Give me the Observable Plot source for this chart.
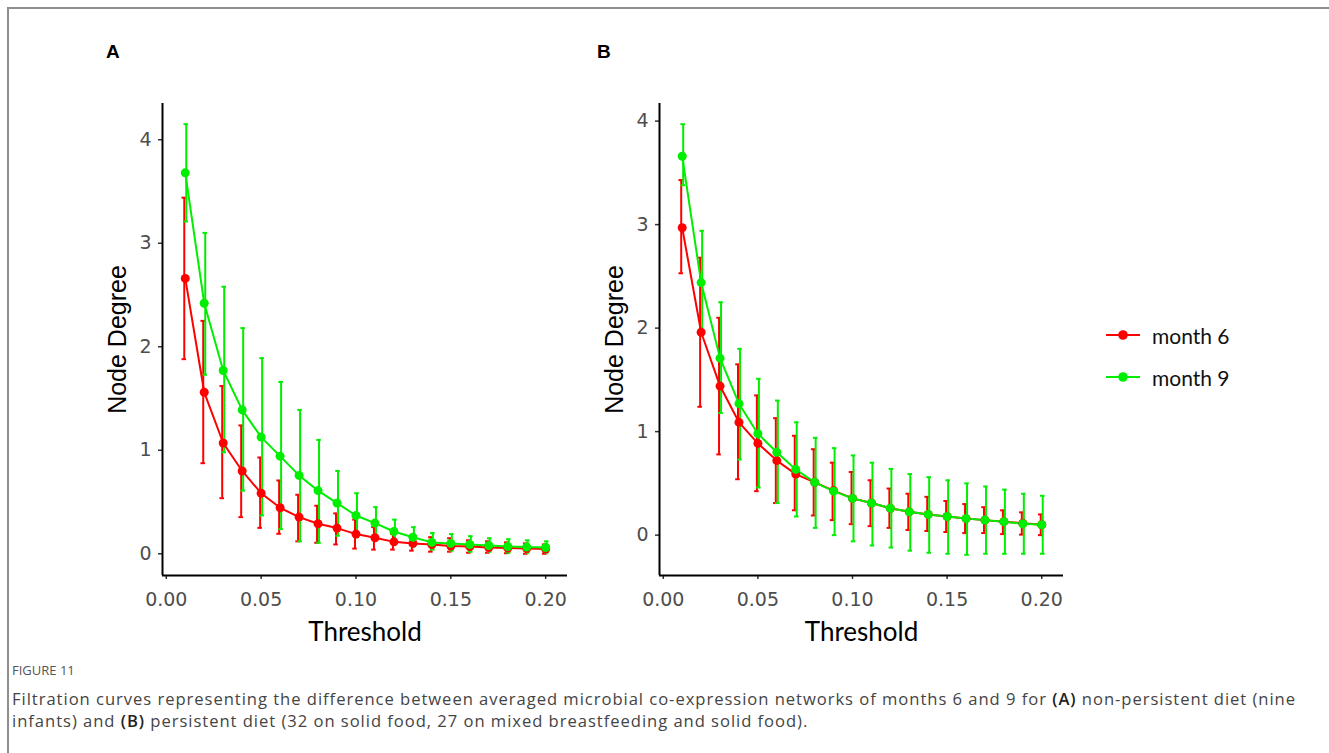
<!DOCTYPE html>
<html><head><meta charset="utf-8">
<script src="https://cdn.jsdelivr.net/npm/d3@7"></script>
<script src="https://cdn.jsdelivr.net/npm/@observablehq/plot@0.6"></script>
<style>
html,body{margin:0;padding:0;background:#fff}
body{width:1329px;height:753px;overflow:hidden;position:relative;font-family:"Liberation Sans",Arial,sans-serif}
#frame{position:absolute;left:7px;top:7px;width:1340px;height:770px;border-left:2px solid #8e8e8e;border-top:2px solid #8e8e8e;box-sizing:border-box}
.panel{position:absolute}
.letter{position:absolute;font-weight:bold;font-size:19px;font-family:"Liberation Sans",Arial,sans-serif;color:#000;line-height:1}
#legend{position:absolute;left:1105px;top:320px;font-family:Lato,sans-serif;font-size:21px;color:#111}
.lg{position:absolute;left:0;height:30px;white-space:nowrap;display:flex;align-items:center}
.lg svg{display:block}
.lg span{margin-left:11px}
#figlabel{position:absolute;left:12px;top:661px;font-family:"Open Sans",sans-serif;font-size:13px;color:#555}
#caption{position:absolute;left:12px;top:688px;font-family:"Open Sans",sans-serif;font-size:16.6px;line-height:22px;color:#444;white-space:nowrap}
#caption b{color:#222;font-weight:600}
</style></head>
<body>
<div id="frame"></div>
<div class="letter" style="left:106px;top:42px">A</div>
<div class="letter" style="left:597px;top:42px">B</div>
<div id="pa" class="panel" style="left:100px;top:93px"></div>
<div id="pb" class="panel" style="left:597px;top:93px"></div>
<div id="legend"></div>
<div id="figlabel">FIGURE 11</div>
<div id="caption"><span id="l1">Filtration curves representing the difference between averaged microbial co-expression networks of months 6 and 9 for <b>(A)</b> non-persistent diet (nine</span><br><span id="l2">infants) and <b>(B)</b> persistent diet (32 on solid food, 27 on mixed breastfeeding and solid food).</span></div>
<script>
// ---- data ----
const thresholds = [0.01,0.02,0.03,0.04,0.05,0.06,0.07,0.08,0.09,0.10,0.11,0.12,0.13,0.14,0.15,0.16,0.17,0.18,0.19,0.20];
const seriesNames = ["month 6","month 9"];
const seriesColors = ["#ff0000","#00ee00"];

// Panel A (non-persistent diet)
const aM6Mean = [2.66,1.56,1.07,0.80,0.585,0.444,0.354,0.29,0.248,0.19,0.155,0.115,0.10,0.09,0.075,0.07,0.06,0.055,0.05,0.045];
const aM6Lo   = [1.88,0.875,0.537,0.354,0.25,0.193,0.12,0.106,0.09,0.05,0.04,0.04,0.03,0.02,0.02,0.01,0.01,0.005,0.0,0.0];
const aM6Hi   = [3.44,2.25,1.62,1.24,0.93,0.708,0.57,0.464,0.39,0.33,0.257,0.19,0.17,0.16,0.15,0.13,0.12,0.11,0.10,0.09];
const aM9Mean = [3.68,2.42,1.77,1.39,1.127,0.943,0.757,0.61,0.49,0.37,0.296,0.215,0.16,0.11,0.10,0.09,0.08,0.07,0.065,0.06];
const aM9Lo   = [3.21,1.73,0.98,0.61,0.37,0.238,0.12,0.106,0.174,0.16,0.155,0.10,0.07,0.04,0.03,0.02,0.02,0.01,0.01,0.01];
const aM9Hi   = [4.15,3.10,2.58,2.18,1.89,1.66,1.39,1.10,0.80,0.585,0.45,0.33,0.257,0.20,0.19,0.17,0.15,0.14,0.13,0.12];

// Panel B (persistent diet)
const bM6Mean = [2.97,1.96,1.44,1.09,0.886,0.72,0.59,0.51,0.43,0.355,0.31,0.26,0.225,0.20,0.18,0.16,0.145,0.13,0.115,0.10];
const bM6Lo   = [2.53,1.24,0.78,0.54,0.425,0.31,0.24,0.19,0.145,0.106,0.087,0.07,0.05,0.04,0.03,0.02,0.02,0.01,0.005,0.0];
const bM6Hi   = [3.43,2.68,2.10,1.65,1.35,1.13,0.96,0.83,0.70,0.61,0.53,0.45,0.40,0.37,0.33,0.30,0.27,0.24,0.22,0.20];
const bM9Mean = [3.66,2.44,1.71,1.27,0.98,0.80,0.635,0.51,0.425,0.355,0.31,0.26,0.225,0.20,0.18,0.16,0.145,0.13,0.11,0.10];
const bM9Lo   = [3.38,1.96,1.18,0.73,0.46,0.31,0.18,0.07,0.0,-0.06,-0.10,-0.12,-0.15,-0.17,-0.18,-0.19,-0.18,-0.18,-0.18,-0.18];
const bM9Hi   = [3.97,2.94,2.25,1.80,1.51,1.30,1.09,0.94,0.84,0.77,0.70,0.64,0.59,0.56,0.53,0.50,0.47,0.44,0.40,0.38];

const xTicks = [0,0.05,0.10,0.15,0.20];
const yTicks = [0,1,2,3,4];
const xDomain = [-0.002,0.2115];
const yDomainA = [-0.21,4.35];
const yDomainB = [-0.39,4.17];

// ---- drawing ----
function rows(mean, lo, hi) {
  return thresholds.map((t,i)=>({x:t, y:mean[i], lo:lo[i], hi:hi[i]}));
}
const cap = 0.0012;
function seriesMarks(data, color, dx) {
  return [
    Plot.ruleX(data, {x:"x", y1:"lo", y2:"hi", stroke:color, strokeWidth:2, dx}),
    Plot.ruleY(data, {y:"hi", x1:d=>d.x-cap, x2:d=>d.x+cap, stroke:color, strokeWidth:2, dx}),
    Plot.ruleY(data, {y:"lo", x1:d=>d.x-cap, x2:d=>d.x+cap, stroke:color, strokeWidth:2, dx})
  ];
}
function panel(s6, s9, yDomain, width) {
  return Plot.plot({
    width, height:562, marginLeft:62, marginRight:10, marginTop:10, marginBottom:80,
    style:{fontFamily:"DejaVu Sans", background:"transparent", overflow:"visible"},
    x:{domain:xDomain}, y:{domain:yDomain},
    marks:[
      ...seriesMarks(s6, seriesColors[0], -1),
      ...seriesMarks(s9, seriesColors[1], 1),
      Plot.line(s6, {x:"x", y:"y", stroke:seriesColors[0], strokeWidth:2}),
      Plot.line(s9, {x:"x", y:"y", stroke:seriesColors[1], strokeWidth:2}),
      Plot.dot(s6, {x:"x", y:"y", r:4.5, fill:seriesColors[0]}),
      Plot.dot(s9, {x:"x", y:"y", r:4.5, fill:seriesColors[1]}),
      Plot.axisX({ticks:xTicks, tickFormat:d3.format(".2f"), tickSize:4, tickPadding:13, fontSize:19, fontFamily:"DejaVu Sans", stroke:"#333", fill:"#4d4d4d", strokeWidth:1.5, label:null}),
      Plot.axisY({ticks:yTicks, tickFormat:d3.format("d"), tickSize:4, tickPadding:7, fontSize:19, fontFamily:"DejaVu Sans", stroke:"#333", fill:"#4d4d4d", strokeWidth:1.5, label:null}),
      Plot.ruleX([xDomain[0]], {stroke:"#000", strokeWidth:2}),
      Plot.ruleY([yDomain[0]], {stroke:"#000", strokeWidth:2}),
      Plot.text(["Node Degree"], {text:d=>d, frameAnchor:"left", textAnchor:"middle", lineAnchor:"middle", rotate:-90, dx:-45, fontSize:25, fontFamily:"Liberation Sans", fill:"#000"}),
      Plot.text(["Threshold"], {text:d=>d, frameAnchor:"bottom", textAnchor:"middle", lineAnchor:"middle", dy:57, fontSize:26, fontFamily:"Lato", fill:"#000"})
    ]
  });
}
document.getElementById("pa").append(panel(rows(aM6Mean,aM6Lo,aM6Hi), rows(aM9Mean,aM9Lo,aM9Hi), yDomainA, 477));
document.getElementById("pb").append(panel(rows(bM6Mean,bM6Lo,bM6Hi), rows(bM9Mean,bM9Lo,bM9Hi), yDomainB, 476));

// legend
const lg = document.getElementById("legend");
seriesNames.forEach((name,i)=>{
  const d = document.createElement("div");
  d.className = "lg";
  d.style.top = (i*42)+"px";
  d.innerHTML = `<svg width="36" height="14"><line x1="1" x2="35" y1="7" y2="7" stroke="${seriesColors[i]}" stroke-width="2.2"/><circle cx="18" cy="7" r="4.8" fill="${seriesColors[i]}"/></svg><span>${name}</span>`;
  lg.append(d);
});

// fit caption line width
const l1 = document.getElementById("l1");
const target = 1284;
const w = l1.getBoundingClientRect().width;
const n = l1.textContent.length;
document.getElementById("caption").style.letterSpacing = ((target - w)/n).toFixed(3)+"px";
</script>
</body></html>
